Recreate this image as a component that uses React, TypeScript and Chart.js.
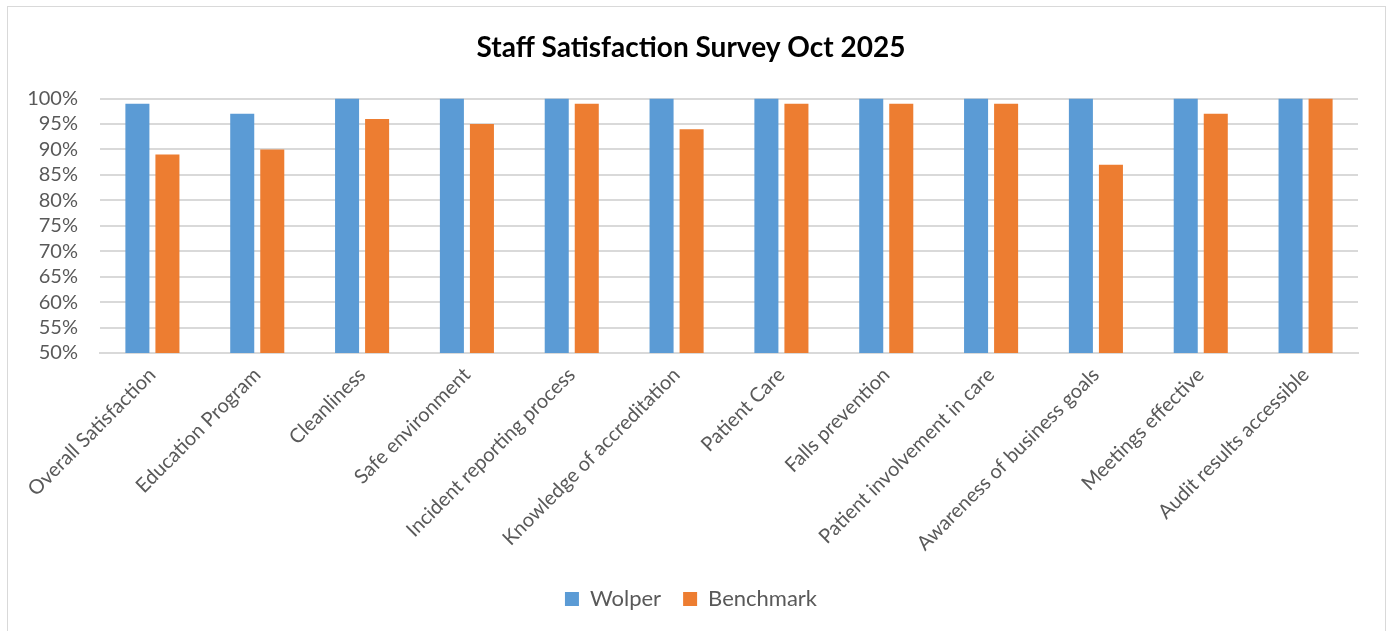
import React, { useEffect, useRef } from "react";
import { Chart, registerables } from "chart.js";

Chart.register(...registerables);

const categories = [
  "Overall Satisfaction",
  "Education Program",
  "Cleanliness",
  "Safe environment",
  "Incident reporting process",
  "Knowledge of accreditation",
  "Patient Care",
  "Falls prevention",
  "Patient involvement in care",
  "Awareness of business goals",
  "Meetings effective",
  "Audit results accessible",
];
const wolperValues = [99, 97, 100, 100, 100, 100, 100, 100, 100, 100, 100, 100];
const benchmarkValues = [89, 90, 96, 95, 99, 94, 99, 99, 99, 87, 97, 100];
const yTicks = [50, 55, 60, 65, 70, 75, 80, 85, 90, 95, 100];

const FONT = "Lato, 'Open Sans', sans-serif";

const framePlugin = {
  id: "frame",
  beforeDraw(chart: any) {
    const ctx = chart.ctx;
    ctx.save();
    ctx.fillStyle = "#ffffff";
    ctx.fillRect(0, 0, chart.width, chart.height);
    ctx.strokeStyle = "#d9d9d9";
    ctx.lineWidth = 1;
    ctx.strokeRect(7.5, 6.5, 1378, 700);
    ctx.restore();
  },
};

export default function App() {
  const ref = useRef<HTMLCanvasElement | null>(null);
  useEffect(() => {
    document.body.style.margin = "0";
    const chart = new Chart(ref.current as HTMLCanvasElement, {
      type: "bar",
      data: {
        labels: categories,
        datasets: [
          {
            label: "Wolper",
            data: wolperValues,
            backgroundColor: "#5B9BD5",
            barPercentage: 0.8,
            categoryPercentage: 0.573,
          },
          {
            label: "Benchmark",
            data: benchmarkValues,
            backgroundColor: "#ED7D31",
            barPercentage: 0.8,
            categoryPercentage: 0.573,
          },
        ],
      },
      options: {
        animation: false,
        responsive: false,
        layout: { padding: { left: 24, right: 33, top: 0, bottom: 11 } },
        plugins: {
          title: {
            display: true,
            text: "Staff Satisfaction Survey Oct 2025",
            color: "#000000",
            font: { family: FONT, size: 28, weight: "bold" },
            padding: { top: 31, bottom: 34 },
          },
          legend: {
            position: "bottom",
            labels: {
              color: "#595959",
              font: { family: FONT, size: 22 },
              boxWidth: 14,
              boxHeight: 14,
              padding: 22,
            },
          },
          tooltip: { enabled: false },
        },
        scales: {
          x: {
            grid: { display: false, drawTicks: false },
            border: { display: true, color: "#d9d9d9", width: 2 },
            ticks: {
              color: "#595959",
              font: { family: FONT, size: 20 },
              minRotation: 45,
              maxRotation: 45,
              padding: 10,
              autoSkip: false,
            },
            afterFit: (scale: any) => {
              scale.height = 213;
            },
          },
          y: {
            min: 50,
            max: 100,
            afterBuildTicks: (scale: any) => {
              scale.ticks = yTicks.map((v) => ({ value: v }));
            },
            grid: { color: "#d9d9d9", lineWidth: 2, drawTicks: false },
            border: { display: false },
            ticks: {
              color: "#595959",
              font: { family: FONT, size: 20 },
              padding: 22,
              autoSkip: false,
              callback: (v: any) => v + "%",
            },
            afterFit: (scale: any) => {
              scale.width = 76;
            },
          },
        },
      },
      plugins: [framePlugin],
    });
    return () => chart.destroy();
  }, []);
  return <canvas ref={ref} width={1391} height={631} style={{ display: "block" }} />;
}
